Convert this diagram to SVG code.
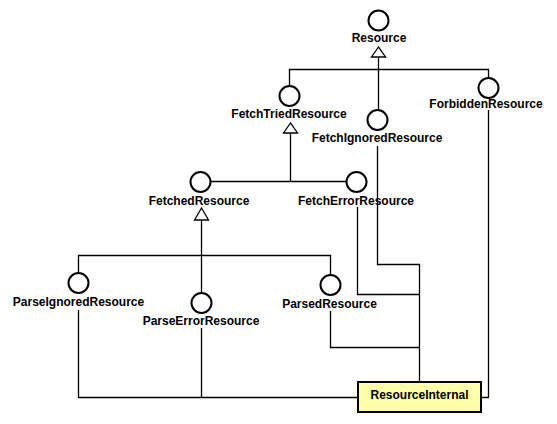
<svg xmlns="http://www.w3.org/2000/svg" width="557" height="424" viewBox="0 0 557 424">
<style>
.c{fill:#fff;stroke:#000;stroke-width:2}
.t{font-family:"Liberation Sans",Arial,sans-serif;font-size:12px;font-weight:bold;fill:#000;text-anchor:middle}
.l{fill:none;stroke:#000;stroke-width:1.3}
.g{fill:#fff;stroke:#000;stroke-width:1.3}
.box{fill:#ffffaa;stroke:#000;stroke-width:2}
</style>
<rect width="557" height="424" fill="#fff"/>
<g id="connectors">
<path class="l" d="M378.5 57V110"/>
<path class="l" d="M289.5 86V69.5H488.5V78"/>
<polygon class="g" points="378.5,47 371.5,57 385.5,57"/>
<path class="l" d="M290.5 133V181.5"/>
<path class="l" d="M210 181.5H346"/>
<polygon class="g" points="290.5,123 283.5,133 297.5,133"/>
<path class="l" d="M201.5 220V293"/>
<path class="l" d="M78.5 273V255.5H330.5V275"/>
<polygon class="g" points="201.5,208 194.5,220 208.5,220"/>
<path class="l" d="M78.5 310V397.5H358"/>
<path class="l" d="M201.5 328V397.5"/>
<path class="l" d="M330.5 311V347.5H419.5"/>
<path class="l" d="M357.5 207V294.5H419.5"/>
<path class="l" d="M377.5 146V264.5H419.5V382"/>
<path class="l" d="M488.5 110V397.5H481"/>
</g>
<g id="Resource"><circle class="c" cx="378.5" cy="20.5" r="10"/><text class="t" x="379" y="42">Resource</text></g>
<g id="FetchTriedResource"><circle class="c" cx="289.5" cy="96" r="10"/><text class="t" x="289" y="118">FetchTriedResource</text></g>
<g id="FetchIgnoredResource"><circle class="c" cx="377.5" cy="120" r="10"/><text class="t" x="377" y="142">FetchIgnoredResource</text></g>
<g id="ForbiddenResource"><circle class="c" cx="488.5" cy="88" r="10"/><text class="t" x="486" y="108">ForbiddenResource</text></g>
<g id="FetchedResource"><circle class="c" cx="200.5" cy="182" r="10"/><text class="t" x="199" y="205">FetchedResource</text></g>
<g id="FetchErrorResource"><circle class="c" cx="356.5" cy="182" r="10"/><text class="t" x="356" y="205">FetchErrorResource</text></g>
<g id="ParseIgnoredResource"><circle class="c" cx="78.5" cy="283" r="10"/><text class="t" x="78.5" y="306">ParseIgnoredResource</text></g>
<g id="ParseErrorResource"><circle class="c" cx="201.5" cy="303" r="10"/><text class="t" x="201" y="325">ParseErrorResource</text></g>
<g id="ParsedResource"><circle class="c" cx="330.5" cy="285" r="10"/><text class="t" x="329.5" y="308">ParsedResource</text></g>
<g id="ResourceInternal"><rect class="box" x="358" y="382" width="123" height="30"/><text class="t" x="419.5" y="399">ResourceInternal</text></g>
</svg>
